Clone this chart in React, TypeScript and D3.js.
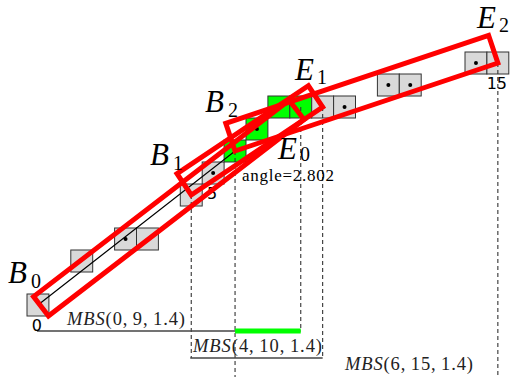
import React from "react";
import * as d3 from "d3";

// ---- data ----
const pixelCols = [0, 2, 4, 5, 7, 8, 9, 10, 11, 12, 13, 14, 16, 17, 20, 21];
const pixelRows = [0, 2, 3, 3, 5, 6, 7, 8, 9, 9, 9, 9, 10, 10, 11, 11];
const greenPixels = [6, 7, 8, 9];
const dottedPixels = [2, 5, 7, 10, 11, 12, 13, 14];
const indexLabels = [0, 5, 15];
const polylineIdx = [0, 6, 15];

const mbsNames = ["MBS", "MBS", "MBS"];
const mbsArgs = ["(0,\u20099,\u20091.4)", "(4,\u200910,\u20091.4)", "(6,\u200915,\u20091.4)"];
const mbsBegin = [0, 4, 6];
const mbsEnd = [9, 10, 15];
const mbsThickness = [1.4, 1.4, 1.4];
// bottom edge of each strip in grid units [col, row]
const rectStart = [[0.98, 0.0], [7.5, 5.5], [9.5, 7.5]];
const rectEnd = [[12.65, 8.93], [13.5, 9.5], [21.5, 11.5]];
const bLabels = ["0", "1", "2"];
const eLabels = ["0", "1", "2"];
const overlapFrom = 6;
const overlapTo = 9;
const angleText = "angle=2.802";

const CELL_W = 21.9;
const CELL_H = 22;

export default function App() {
  const x = d3.scaleLinear().domain([0, 21]).range([27, 27 + 21 * CELL_W]);
  const y = d3.scaleLinear().domain([0, 11]).range([316, 316 - 11 * CELL_H]);
  const cx = (i: number) => x(pixelCols[i] + 0.5);
  const cy = (i: number) => y(pixelRows[i] + 0.5);

  const bracketY = [331, 358, 385];

  const rects = rectStart.map((s, k) => {
    const e = rectEnd[k];
    const p0 = [x(s[0]), y(s[1])];
    const p1 = [x(e[0]), y(e[1])];
    const dx = p1[0] - p0[0], dy = p1[1] - p0[1];
    const len = Math.hypot(dx, dy);
    const ux = dx / len, uy = dy / len;
    const nx = uy, ny = -ux;
    const w = mbsThickness[k] * CELL_H * ux;
    const pts = [p0, p1, [p1[0] + nx * w, p1[1] + ny * w], [p0[0] + nx * w, p0[1] + ny * w]];
    return pts;
  });

  const line = d3.line<number>().x((i) => cx(i)).y((i) => cy(i));

  // dashed verticals: begin/end of each strip except the very first pixel
  const dashed: { i: number; level: number }[] = [];
  mbsBegin.forEach((b, k) => { if (b !== 0) dashed.push({ i: b, level: k }); });
  mbsEnd.forEach((e, k) => dashed.push({ i: e, level: k }));

  const serif = "'Liberation Serif', 'DejaVu Serif', serif";
  const bigSize = 31;
  const subSize = 20;

  const bPos = [[8, 283], [150, 165], [205, 112]];
  const ePos = [[278, 159], [295, 80], [477, 28]];
  const eSubDy = [2, 4, 4];
  const mbsTextPos = [[67, 325], [193, 352], [345, 370]];
  const mbsTextLen = [118, 129, 128];

  return (
    <svg width={511} height={377} style={{ position: "absolute", left: 0, top: 0, background: "#fff" }}>
      {/* dashed verticals */}
      {dashed.map((d, j) => (
        <line key={"d" + j} x1={cx(d.i)} x2={cx(d.i)} y1={cy(d.i)} y2={bracketY[d.level]}
          stroke="#333" strokeWidth={1.1} strokeDasharray="4,3" />
      ))}
      {/* bracket lines */}
      {mbsBegin.map((b, k) => (
        <line key={"b" + k} x1={cx(b) - 1} x2={cx(mbsEnd[k])} y1={bracketY[k]} y2={bracketY[k]}
          stroke="#444" strokeWidth={1.3} />
      ))}
      <line x1={cx(overlapFrom)} x2={cx(overlapTo)} y1={bracketY[0]} y2={bracketY[0]} stroke="#00ff00" strokeWidth={5} />
      {/* pixels */}
      {pixelCols.map((c, i) => (
        <rect key={"p" + i} x={x(c)} y={y(pixelRows[i] + 1)} width={CELL_W} height={CELL_H}
          fill={greenPixels.includes(i) ? "#00ff00" : "#d9d9d9"} stroke="#333" strokeWidth={1} />
      ))}
      {/* dashed over cells */}
      {dashed.map((d, j) => (
        <line key={"dd" + j} x1={cx(d.i)} x2={cx(d.i)} y1={cy(d.i)} y2={y(pixelRows[d.i])}
          stroke="#333" strokeWidth={1.1} strokeDasharray="4,3" />
      ))}
      {dottedPixels.map((i) => (
        <circle key={"c" + i} cx={cx(i)} cy={cy(i)} r={2} fill="#000" />
      ))}
      {indexLabels.map((i) => (
        <text key={"l" + i} x={cx(i) - 1} y={y(pixelRows[i]) + 15} textAnchor="middle"
          fontFamily="'DejaVu Sans', sans-serif" fontSize={16} fill="#000">{String(i)}</text>
      ))}
      {/* polyline */}
      <path d={line(polylineIdx) || ""} fill="none" stroke="#000" strokeWidth={1.2} />
      {/* strips */}
      {rects.map((pts, k) => (
        <polygon key={"r" + k} points={pts.map((p) => p.join(",")).join(" ")} fill="none"
          stroke="#ff0000" strokeWidth={5} strokeLinejoin="miter" />
      ))}
      {/* labels */}
      {bLabels.map((s, k) => (
        <g key={"bl" + k}>
          <text x={bPos[k][0]} y={bPos[k][1]} fontFamily={serif} fontStyle="italic" fontSize={bigSize}>B</text>
          <text x={bPos[k][0] + 23} y={bPos[k][1] + 5} fontFamily={serif} fontSize={subSize}>{s}</text>
        </g>
      ))}
      {eLabels.map((s, k) => (
        <g key={"el" + k}>
          <text x={ePos[k][0]} y={ePos[k][1]} fontFamily={serif} fontStyle="italic" fontSize={bigSize}>E</text>
          <text x={ePos[k][0] + 22} y={ePos[k][1] + eSubDy[k]} fontFamily={serif} fontSize={subSize}>{s}</text>
        </g>
      ))}
      <text x={242} y={181} fontFamily={serif} fontSize={17} textLength={92} lengthAdjust="spacing">{angleText}</text>
      {mbsNames.map((n, k) => (
        <text key={"m" + k} x={mbsTextPos[k][0]} y={mbsTextPos[k][1]} fontFamily={serif} fontSize={18.5}
          fill="#222" textLength={mbsTextLen[k]} lengthAdjust="spacing">
          <tspan fontStyle="italic">{n}</tspan>
          <tspan>{mbsArgs[k]}</tspan>
        </text>
      ))}
    </svg>
  );
}
